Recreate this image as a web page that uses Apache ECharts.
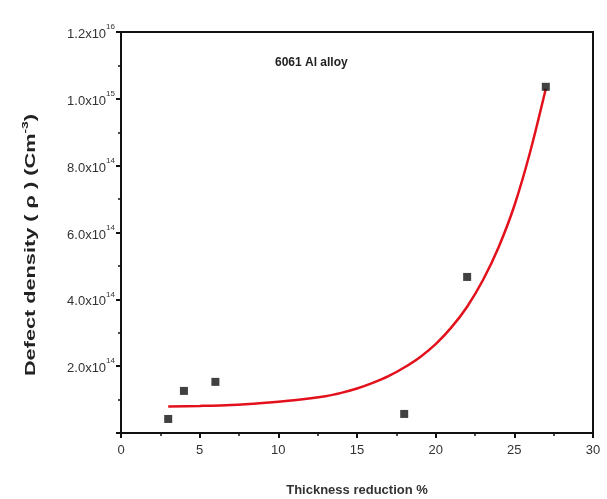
<!DOCTYPE html>
<html><head><meta charset="utf-8">
<script src="https://cdn.jsdelivr.net/npm/echarts@6/dist/echarts.min.js"></script>
<style>html,body{margin:0;padding:0;background:#fff}#c{width:607px;height:499px}</style>
</head><body><div id="c"></div>
<script>
// Measured data points (thickness reduction %, defect density m^-3)
const pointX = [3, 4, 6, 18, 22, 27];
const pointY = [0.42e14, 1.26e14, 1.53e14, 0.57e14, 4.67e14, 10.36e14];
// Exponential fit curve
const curveX = [3, 5, 7, 9, 11, 13, 14, 15, 16, 17, 18, 19, 20, 21, 22, 23, 24, 25, 26, 27];
const curveY = [0.79e14, 0.81e14, 0.84e14, 0.90e14, 0.98e14, 1.10e14, 1.20e14, 1.33e14, 1.50e14, 1.70e14, 1.96e14, 2.27e14, 2.66e14, 3.16e14, 3.78e14, 4.57e14, 5.56e14, 6.8e14, 8.4e14, 10.3e14];
// Tick labels
const yTickValues = [2e14, 4e14, 6e14, 8e14, 10e14, 12e14];
const yTickMantissa = ['2.0', '4.0', '6.0', '8.0', '1.0', '1.2'];
const yTickExp = ['14', '14', '14', '14', '15', '16'];
const xTickLabels = ['0', '5', '10', '15', '20', '25', '30'];

const chart = echarts.init(document.getElementById('c'));
const font = 'Arial, "Liberation Sans", sans-serif';
chart.setOption({
  animation: false,
  grid: {left: 121, right: 14, top: 32, bottom: 66, show: true, borderColor: '#111', borderWidth: 2, backgroundColor: 'transparent'},
  xAxis: {
    type: 'value', min: 0, max: 30, interval: 5,
    axisLine: {show: true, lineStyle: {color: '#111', width: 2}},
    axisTick: {show: true, length: 5, lineStyle: {color: '#111', width: 2}},
    minorTick: {show: true, splitNumber: 2, length: 3, lineStyle: {color: '#111', width: 1.5}},
    splitLine: {show: false},
    axisLabel: {color: '#333', fontFamily: font, fontSize: 13, margin: 11,
      formatter: v => xTickLabels[Math.round(v / 5)] ?? ''}
  },
  yAxis: {
    type: 'value', min: 0, max: 1.2e15, interval: 2e14,
    axisLine: {show: true, lineStyle: {color: '#111', width: 2}},
    axisTick: {show: true, length: 5, lineStyle: {color: '#111', width: 2}},
    minorTick: {show: true, splitNumber: 2, length: 3, lineStyle: {color: '#111', width: 1.5}},
    splitLine: {show: false},
    axisLabel: {
      margin: 6,
      formatter: v => {
        const i = yTickValues.findIndex(t => Math.abs(t - v) < 1e12);
        if (i < 0) return '';
        return '{b|' + yTickMantissa[i] + 'x10}{s|' + yTickExp[i] + '}';
      },
      rich: {
        b: {color: '#333', fontFamily: font, fontSize: 13, lineHeight: 18, verticalAlign: 'bottom'},
        s: {color: '#333', fontFamily: font, fontSize: 8, lineHeight: 18, verticalAlign: 'top', padding: [0, 0, 12, 0]}
      }
    }
  },
  graphic: [
    {type: 'text', left: 275, top: 57, style: {text: '6061 Al alloy', font: 'bold 12px ' + font, fill: '#222'}},
    {type: 'text', x: 357, y: 490, style: {text: 'Thickness reduction %', font: 'bold 13px ' + font, fill: '#333', align: 'center', verticalAlign: 'middle'}},
    {type: 'text', x: 31, y: 245, rotation: Math.PI / 2, scaleX: 1.55, scaleY: 1.05,
      style: {
        text: '{t|Defect density ( ρ ) (Cm}{s|-3}{t|)}', align: 'center', verticalAlign: 'middle',
        rich: {
          t: {font: 'bold 14px ' + font, fill: '#222', lineHeight: 20},
          s: {font: 'bold 9px ' + font, fill: '#222', lineHeight: 20, verticalAlign: 'top', padding: [0, 0, 10, 0]}
        }
      }}
  ],
  series: [
    {type: 'line', data: curveX.map((x, i) => [x, curveY[i]]), smooth: 0.3, showSymbol: false, symbol: 'none',
      lineStyle: {color: '#e3111b', width: 2.5}, z: 2},
    {type: 'scatter', data: pointX.map((x, i) => [x, pointY[i]]), symbol: 'rect', symbolSize: 8,
      itemStyle: {color: '#111'}, z: 3}
  ]
});
</script></body></html>
